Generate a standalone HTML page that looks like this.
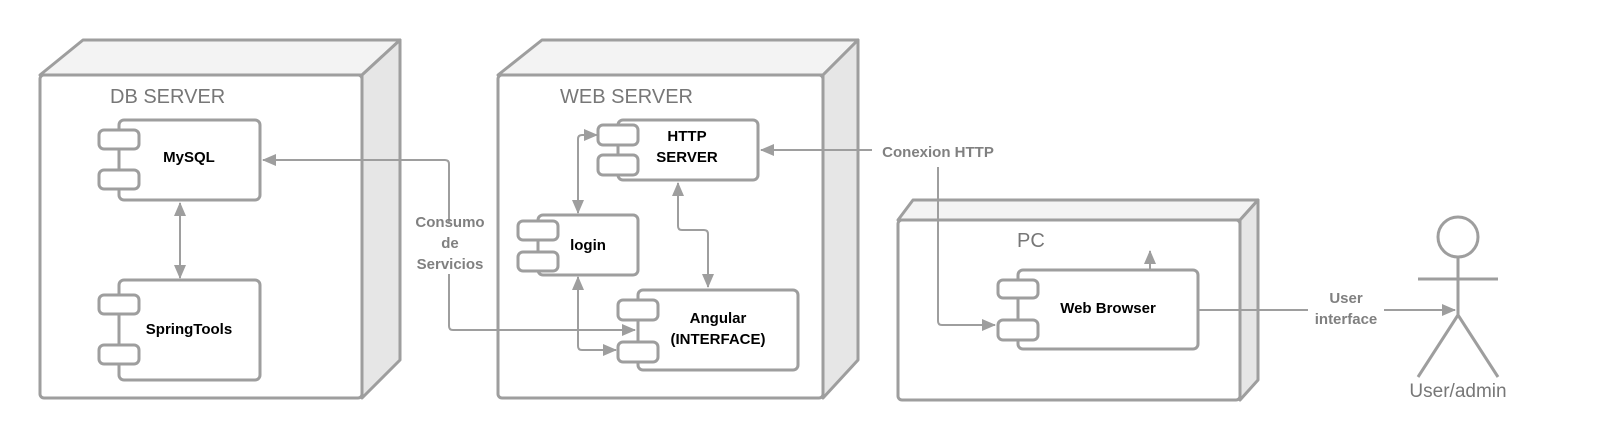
<!DOCTYPE html>
<html><head><meta charset="utf-8"><style>
html,body{margin:0;padding:0;background:#fff;}
svg{display:block;}
.n{fill:#777;font-family:"Liberation Sans",sans-serif;font-size:20px;}
.c{fill:#000;font-family:"Liberation Sans",sans-serif;font-size:15px;font-weight:bold;text-anchor:middle;}
.e{fill:#808080;font-family:"Liberation Sans",sans-serif;font-size:15px;font-weight:bold;text-anchor:middle;}
</style></head><body>
<svg width="1619" height="440" viewBox="0 0 1619 440" xmlns="http://www.w3.org/2000/svg">
<defs>
<marker id="a" markerWidth="14" markerHeight="12" refX="13" refY="6" orient="auto-start-reverse" markerUnits="userSpaceOnUse" viewBox="0 0 14 12">
<path d="M0,0 L14,6 L0,12 z" fill="#9e9e9e"/></marker>
</defs>
<g stroke="#9e9e9e" stroke-width="3" stroke-linejoin="round">
<path d="M40,75 L83,40 L400,40 L362,75 Z" fill="#f3f3f3"/>
<path d="M362,75 L400,40 L400,360 L362,398 Z" fill="#e6e6e6"/>
<rect x="40" y="75" width="322" height="323" rx="4" fill="#fff"/>
<path d="M498,75 L542,40 L858,40 L823,75 Z" fill="#f3f3f3"/>
<path d="M823,75 L858,40 L858,360 L823,398 Z" fill="#e6e6e6"/>
<rect x="498" y="75" width="325" height="323" rx="4" fill="#fff"/>
<path d="M898,220 L913,200 L1258,200 L1240,220 Z" fill="#f3f3f3"/>
<path d="M1240,220 L1258,200 L1258,380 L1240,400 Z" fill="#e6e6e6"/>
<rect x="898" y="220" width="342" height="180" rx="4" fill="#fff"/>
</g>
<text class="n" x="110" y="103">DB SERVER</text>
<text class="n" x="560" y="103">WEB SERVER</text>
<text class="n" x="1017" y="247">PC</text>

<g stroke="#9e9e9e" stroke-width="3" fill="#fff">
<rect x="119" y="120" width="141" height="80" rx="5"/>
<rect x="99" y="130" width="40" height="19" rx="5"/><rect x="99" y="170" width="40" height="19" rx="5"/>
<rect x="119" y="280" width="141" height="100" rx="5"/>
<rect x="99" y="295" width="40" height="19" rx="5"/><rect x="99" y="345" width="40" height="19" rx="5"/>
<rect x="618" y="120" width="140" height="60" rx="5"/>
<rect x="598" y="125" width="40" height="20" rx="5"/><rect x="598" y="155" width="40" height="20" rx="5"/>
<rect x="538" y="215" width="100" height="60" rx="5"/>
<rect x="518" y="221" width="40" height="19" rx="5"/><rect x="518" y="252" width="40" height="19" rx="5"/>
<rect x="638" y="290" width="160" height="80" rx="5"/>
<rect x="618" y="300" width="40" height="20" rx="5"/><rect x="618" y="342" width="40" height="20" rx="5"/>
<rect x="1018" y="270" width="180" height="79" rx="5"/>
<rect x="998" y="280" width="40" height="18" rx="5"/><rect x="998" y="320" width="40" height="20" rx="5"/>
</g>
<text class="c" x="189" y="162">MySQL</text>
<text class="c" x="189" y="334">SpringTools</text>
<text class="c" x="687" y="141">HTTP</text>
<text class="c" x="687" y="162">SERVER</text>
<text class="c" x="588" y="250">login</text>
<text class="c" x="718" y="323">Angular</text>
<text class="c" x="718" y="344">(INTERFACE)</text>
<text class="c" x="1108" y="313">Web Browser</text>

<g stroke="#9e9e9e" stroke-width="2" fill="none">
<path d="M180,203 L180,278" marker-start="url(#a)" marker-end="url(#a)"/>
<path d="M449,222 L449,164 Q449,160 445,160 L263,160" marker-end="url(#a)"/>
<path d="M449,274 L449,326 Q449,330 453,330 L635,330" marker-end="url(#a)"/>
<path d="M578,213 L578,139 Q578,135 582,135 L597,135" marker-start="url(#a)" marker-end="url(#a)"/>
<path d="M578,277 L578,346 Q578,350 582,350 L616,350" marker-start="url(#a)" marker-end="url(#a)"/>
<path d="M678,183 L678,226 Q678,230 682,230 L704,230 Q708,230 708,234 L708,287" marker-start="url(#a)" marker-end="url(#a)"/>
<path d="M872,150 L761,150" marker-end="url(#a)"/>
<path d="M938,167 L938,321 Q938,325 942,325 L995,325" marker-end="url(#a)"/>
<path d="M1150,270 L1150,251" marker-end="url(#a)"/>
<path d="M1198,310 L1308,310"/>
<path d="M1384,310 L1455,310" marker-end="url(#a)"/>
</g>
<text class="e" x="450" y="227">Consumo</text>
<text class="e" x="450" y="248">de</text>
<text class="e" x="450" y="269">Servicios</text>
<text class="e" x="938" y="157">Conexion HTTP</text>
<text class="e" x="1346" y="303">User</text>
<text class="e" x="1346" y="324">interface</text>

<g stroke="#9e9e9e" stroke-width="3" fill="none">
<circle cx="1458" cy="237" r="20"/>
<path d="M1458,257 L1458,315 M1418,279 L1498,279 M1458,315 L1418,377 M1458,315 L1498,377"/>
</g>
<text x="1458" y="397" style="fill:#777;font-family:'Liberation Sans',sans-serif;font-size:19px;text-anchor:middle">User/admin</text>
</svg>
</body></html>
